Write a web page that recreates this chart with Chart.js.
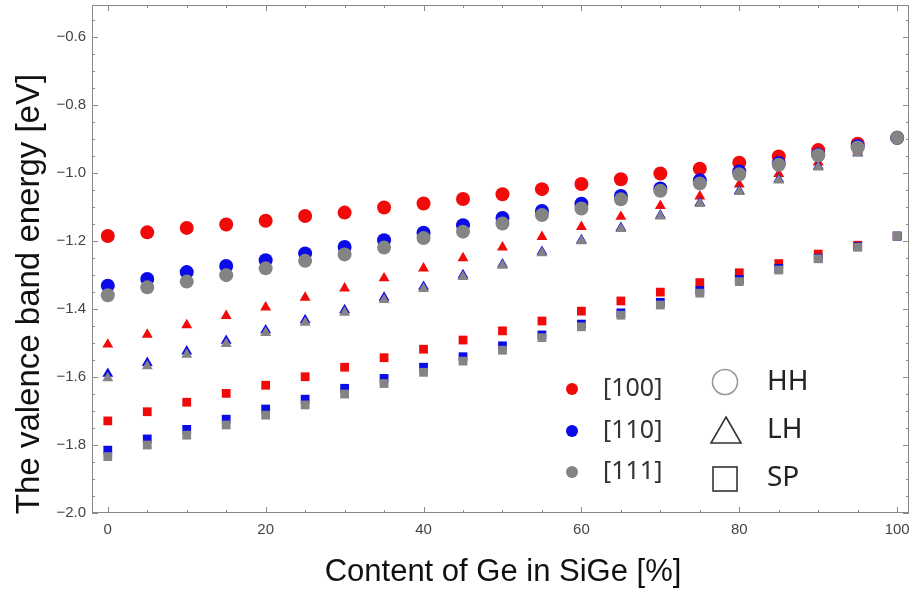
<!DOCTYPE html>
<html>
<head>
<meta charset="utf-8">
<script src="https://cdn.jsdelivr.net/npm/chart.js@4/dist/chart.umd.min.js"></script>
<style>
  html, body { margin: 0; padding: 0; background: #fff; }
  #wrap { width: 911px; height: 592px; position: relative; }
</style>
</head>
<body>
<div id="wrap"><canvas id="c" width="911" height="592"></canvas></div>
<script>
// Ge content in the SiGe alloy [%]
const geContent = [0, 5, 10, 15, 20, 25, 30, 35, 40, 45, 50, 55, 60, 65, 70, 75, 80, 85, 90, 95, 100];

// Heavy-hole band edge [eV] per crystal direction
const hh100 = [-1.185, -1.174, -1.161, -1.151, -1.140, -1.126, -1.116, -1.101, -1.089, -1.076, -1.062, -1.047, -1.032, -1.018, -1.001, -0.987, -0.969, -0.951, -0.932, -0.913, -0.896];
const hh110 = [-1.331, -1.311, -1.291, -1.273, -1.256, -1.236, -1.217, -1.197, -1.175, -1.153, -1.132, -1.111, -1.090, -1.067, -1.045, -1.021, -0.995, -0.970, -0.945, -0.920, -0.896];
const hh111 = [-1.359, -1.336, -1.319, -1.300, -1.280, -1.258, -1.239, -1.219, -1.191, -1.172, -1.148, -1.123, -1.104, -1.077, -1.052, -1.030, -1.003, -0.975, -0.947, -0.924, -0.896];

// Light-hole band edge [eV]
const lh100 = [-1.504, -1.475, -1.447, -1.420, -1.395, -1.366, -1.339, -1.309, -1.280, -1.250, -1.218, -1.187, -1.158, -1.128, -1.096, -1.068, -1.033, -1.002, -0.968, -0.932, -0.896];
const lh110 = [-1.590, -1.558, -1.524, -1.493, -1.462, -1.432, -1.403, -1.366, -1.334, -1.300, -1.268, -1.231, -1.197, -1.161, -1.124, -1.087, -1.052, -1.018, -0.980, -0.940, -0.896];
const lh111 = [-1.603, -1.568, -1.534, -1.502, -1.470, -1.440, -1.410, -1.373, -1.340, -1.305, -1.272, -1.235, -1.200, -1.164, -1.127, -1.090, -1.055, -1.021, -0.983, -0.942, -0.896];

// Split-off band edge [eV]
const sp100 = [-1.729, -1.702, -1.674, -1.648, -1.624, -1.599, -1.571, -1.543, -1.518, -1.491, -1.464, -1.435, -1.406, -1.376, -1.350, -1.322, -1.293, -1.266, -1.238, -1.212, -1.185];
const sp110 = [-1.815, -1.782, -1.754, -1.724, -1.694, -1.665, -1.633, -1.604, -1.571, -1.540, -1.508, -1.476, -1.444, -1.411, -1.380, -1.345, -1.313, -1.280, -1.250, -1.216, -1.185];
const sp111 = [-1.834, -1.800, -1.771, -1.741, -1.712, -1.682, -1.650, -1.619, -1.586, -1.553, -1.521, -1.484, -1.452, -1.418, -1.388, -1.353, -1.319, -1.285, -1.252, -1.218, -1.185];

// Axis tick values
const xTicks = [0, 20, 40, 60, 80, 100];
const yTicks = [-2.0, -1.8, -1.6, -1.4, -1.2, -1.0, -0.8, -0.6];

// Legend labels
const directionLabels = ['[100]', '[110]', '[111]'];
const bandLabels = ['HH', 'LH', 'SP'];

const RED = '#f00a0a';
const BLUE = '#0b0be8';
const GRAY = '#848484';

const pts = arr => arr.map((v, i) => ({ x: geContent[i], y: v }));

function series(label, data, color, shape, radius, order) {
  return {
    label,
    data: pts(data),
    backgroundColor: color,
    borderColor: color,
    borderWidth: 0,
    pointStyle: shape,
    pointRadius: radius,
    pointHoverRadius: radius,
    showLine: false,
    order
  };
}

const datasets = [
  series('HH [111]', hh111, GRAY, 'circle', 7, 1),
  series('LH [111]', lh111, GRAY, 'triangle', 6.3, 1),
  series('SP [111]', sp111, GRAY, 'rect', 6.2, 1),
  series('HH [110]', hh110, BLUE, 'circle', 7, 2),
  series('LH [110]', lh110, BLUE, 'triangle', 6.3, 2),
  series('SP [110]', sp110, BLUE, 'rect', 6.2, 2),
  series('HH [100]', hh100, RED, 'circle', 7, 3),
  series('LH [100]', lh100, RED, 'triangle', 6.3, 3),
  series('SP [100]', sp100, RED, 'rect', 6.2, 3)
];

const minus = s => s.replace('-', '\u2212');

// keep the plot frame fixed: no extra room for overhanging tick labels
function fixScale(s, prop, size) {
  s[prop] = size;
  s.paddingTop = 0; s.paddingBottom = 0; s.paddingLeft = 0; s.paddingRight = 0;
}

// Frame, inward ticks, axis titles and the legend block
const decorations = {
  id: 'decorations',
  afterDatasetsDraw(chart) {
    const { ctx, chartArea: a, scales: { x, y } } = chart;
    ctx.save();
    ctx.strokeStyle = '#8a8a8a';
    ctx.lineWidth = 1;
    ctx.strokeRect(a.left + 0.5, a.top + 0.5, a.right - a.left - 1, a.bottom - a.top - 1);

    ctx.beginPath();
    for (let v = 0; v <= 100; v += 5) {
      const px = Math.round(x.getPixelForValue(v)) + 0.5;
      const len = v % 20 === 0 ? 6 : 3;
      ctx.moveTo(px, a.bottom); ctx.lineTo(px, a.bottom - len);
      ctx.moveTo(px, a.top); ctx.lineTo(px, a.top + len);
    }
    for (let k = -40; k <= -11; k++) {
      const v = k * 0.05;
      const py = Math.round(y.getPixelForValue(v)) + 0.5;
      const len = (k % 4 === 0) ? 6 : 3;
      ctx.moveTo(a.left, py); ctx.lineTo(a.left + len, py);
      ctx.moveTo(a.right, py); ctx.lineTo(a.right - len, py);
    }
    ctx.stroke();

    // axis titles
    ctx.fillStyle = '#111';
    ctx.font = '31px "Liberation Sans", Arial, sans-serif';
    ctx.textAlign = 'center';
    ctx.textBaseline = 'middle';
    ctx.fillText('Content of Ge in SiGe [%]', 503, 572);
    ctx.save();
    ctx.translate(30, 294);
    ctx.rotate(-Math.PI / 2);
    ctx.font = '33px "Liberation Sans", Arial, sans-serif';
    ctx.fillText('The valence band energy [eV]', 0, 0);
    ctx.restore();

    // direction legend
    const dirColors = [RED, BLUE, GRAY];
    const dirY = [389, 431, 472];
    ctx.textAlign = 'left';
    ctx.font = '25px "Noto Sans", sans-serif';
    dirY.forEach((py, i) => {
      ctx.fillStyle = dirColors[i];
      ctx.beginPath();
      ctx.arc(572, py, 6, 0, Math.PI * 2);
      ctx.fill();
      ctx.fillStyle = '#333';
      ctx.fillText(directionLabels[i], 603, py);
    });

    // band legend
    const bandY = [382, 430, 479];
    ctx.lineWidth = 1.6;
    ctx.strokeStyle = '#9a9a9a';
    ctx.beginPath();
    ctx.arc(725, bandY[0], 12.5, 0, Math.PI * 2);
    ctx.stroke();
    ctx.strokeStyle = '#333';
    ctx.beginPath();
    ctx.moveTo(726, bandY[1] - 13);
    ctx.lineTo(741, bandY[1] + 13);
    ctx.lineTo(711, bandY[1] + 13);
    ctx.closePath();
    ctx.stroke();
    ctx.strokeRect(713, bandY[2] - 12, 24, 24);
    ctx.fillStyle = '#222';
    ctx.font = '28px "Noto Sans", sans-serif';
    bandLabels.forEach((t, i) => ctx.fillText(t, 767, [382, 430, 478][i]));
    ctx.restore();
  }
};

new Chart(document.getElementById('c'), {
  type: 'scatter',
  data: { datasets },
  options: {
    responsive: false,
    animation: false,
    events: [],
    layout: { autoPadding: false, padding: { top: 5, right: 2, left: 0, bottom: 0 } },
    plugins: { legend: { display: false }, tooltip: { enabled: false } },
    scales: {
      x: {
        type: 'linear',
        min: -2,
        max: 101.5,
        afterBuildTicks: s => { s.ticks = xTicks.map(v => ({ value: v })); },
        afterFit: s => fixScale(s, 'height', 79),
        grid: { display: false, drawTicks: false },
        border: { display: false },
        ticks: {
          padding: 8,
          color: '#444',
          font: { family: '"Liberation Sans", Arial, sans-serif', size: 15 },
          callback: v => String(v)
        }
      },
      y: {
        type: 'linear',
        min: -2.0,
        max: -0.505,
        afterBuildTicks: s => { s.ticks = yTicks.map(v => ({ value: v })); },
        afterFit: s => fixScale(s, 'width', 92),
        grid: { display: false, drawTicks: false },
        border: { display: false },
        ticks: {
          padding: 6,
          color: '#444',
          font: { family: '"Liberation Sans", Arial, sans-serif', size: 15 },
          callback: v => minus(Number(v).toFixed(1))
        }
      }
    }
  },
  plugins: [decorations]
});
</script>
</body>
</html>
